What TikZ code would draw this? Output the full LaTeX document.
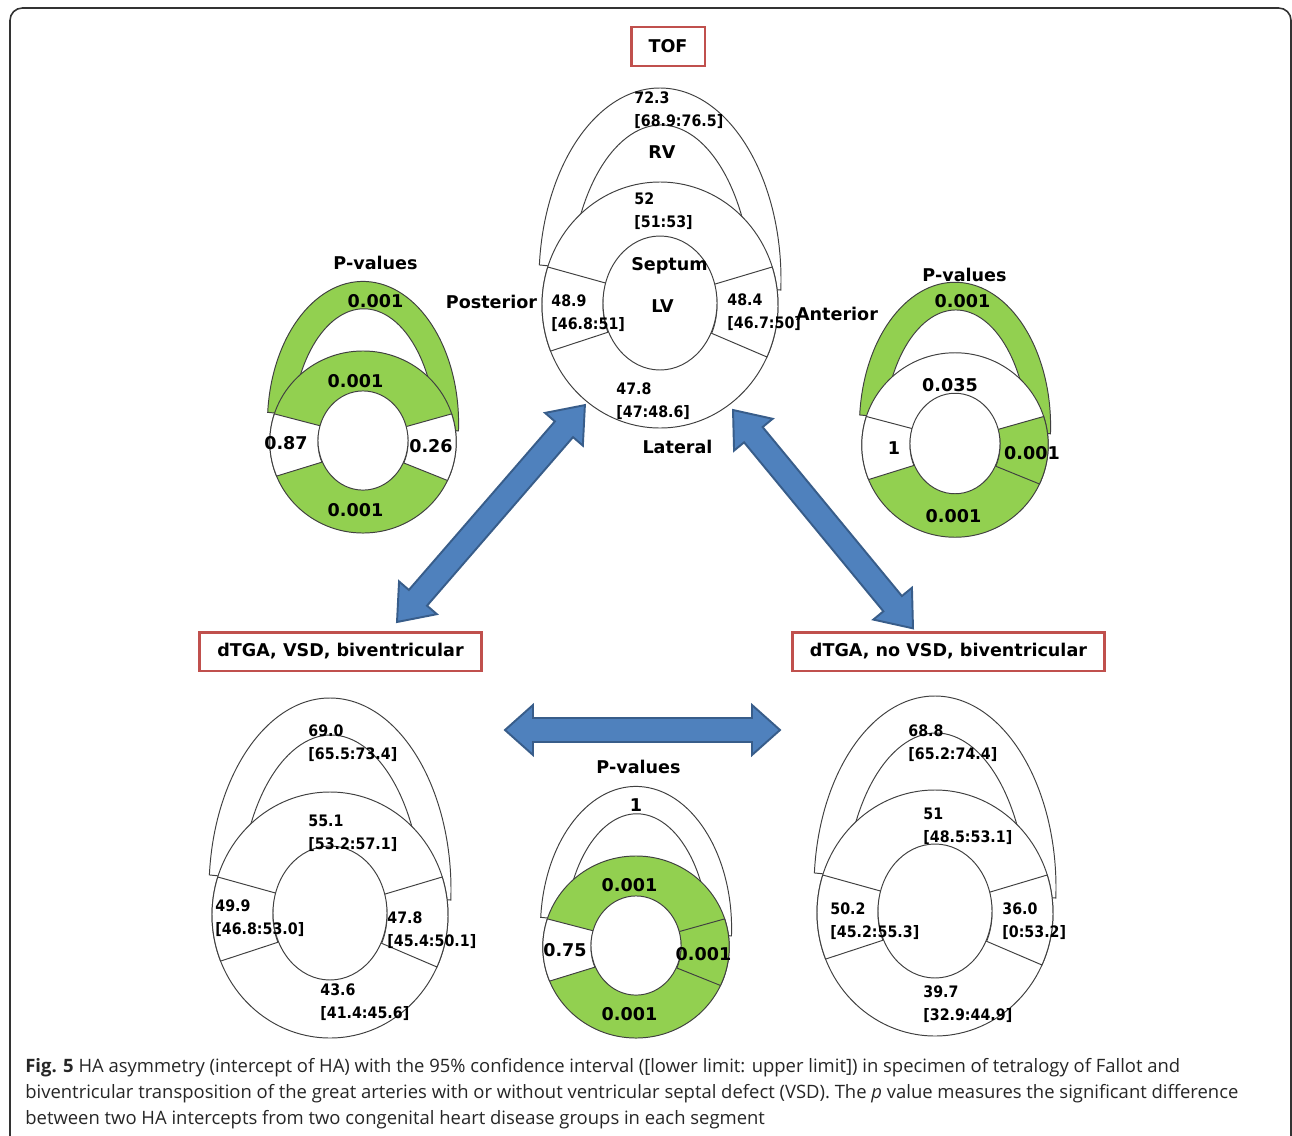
\documentclass[tikz,border=0pt]{standalone}
\usepackage{fontspec}
\setmainfont{DejaVu Sans}
\newfontfamily\capfont{Open Sans}
\newfontfamily\valfont[FakeStretch=0.9]{DejaVu Sans}
\usetikzlibrary{calc}
\definecolor{pgreen}{RGB}{146,208,80}
\definecolor{ablue}{RGB}{79,129,189}
\definecolor{ablueline}{RGB}{56,93,138}
\definecolor{bred}{RGB}{192,80,77}
\tikzset{
  hl/.style={draw=black!75, line width=0.55pt},
  val/.style={font=\valfont\bfseries\fontsize{9}{13}\selectfont, align=left, inner sep=0pt, anchor=west},
  bl/.style={font=\bfseries\fontsize{10}{12}\selectfont, inner sep=0pt},
  redbox/.style={draw=bred, line width=1.7pt, fill=white, font=\bfseries\fontsize{10}{12}\selectfont, inner sep=0pt, minimum height=0.78cm},
  arrowst/.style={fill=ablue, draw=ablueline, line width=1.1pt, line join=miter},
  captext/.style={font=\capfont\fontsize{10.5}{12}\selectfont, text=black!85, inner sep=0pt, anchor=west}
}
% heart: #1 RV, #2 septum, #3 lateral, #4 posterior, #5 anterior
\newcommand\hrt[5]{%
  \filldraw[hl, fill=#1, shift={(0,-25)}] (184.5:121 and 192) arc[start angle=184.5, end angle=363, x radius=121, y radius=192] -- cycle;
  \filldraw[hl, fill=white, shift={(1,-5)}] (200:92 and 175) arc[start angle=200, end angle=340, x radius=92, y radius=175] -- cycle;
  \fill[#2] (0,0) ellipse[x radius=118, y radius=123];
  \fill[#3] (0,0) -- (20:118 and 123) arc[start angle=20, end angle=160, x radius=118, y radius=123] -- cycle;
  \draw[hl] (0,0) ellipse[x radius=118, y radius=123];
  \filldraw[hl, fill=#4] (158:118 and 123) arc[start angle=158, end angle=198, x radius=118, y radius=123] -- (199:57 and 67) arc[start angle=199, end angle=156, x radius=57, y radius=67] -- cycle;
  \filldraw[hl, fill=#5] (-18:118 and 123) arc[start angle=-18, end angle=25, x radius=118, y radius=123] -- (25:57 and 67) arc[start angle=25, end angle=-18, x radius=57, y radius=67] -- cycle;
  \filldraw[hl, fill=white] (0,-2) ellipse[x radius=57, y radius=67];
}
% block double arrow: #1 length, #2 shaft half width, #3 head half width, #4 head length
\newcommand\blockarr[4]{%
  \filldraw[arrowst] (0,0) -- (#4,-#3) -- (#4,-#2) -- ({#1-#4},-#2) -- ({#1-#4},-#3) -- (#1,0) -- ({#1-#4},#3) -- ({#1-#4},#2) -- (#4,#2) -- (#4,#3) -- cycle;
}
\begin{document}
\begin{tikzpicture}[x=0.02cm, y=-0.02cm]
\useasboundingbox (0,0) rectangle (1292,1136);
\fill[white] (0,0) rectangle (1292,1136);
\draw[black!80, line width=0.9pt, rounded corners=7pt] (10,1170) -- (10,8) -- (1291,8) -- (1291,1170);

% ---- hearts with values ----
\begin{scope}[shift={(660,305)}] \hrt{white}{white}{white}{white}{white} \end{scope}
\begin{scope}[shift={(330,915)}] \hrt{white}{white}{white}{white}{white} \end{scope}
\begin{scope}[shift={(935,913)}] \hrt{white}{white}{white}{white}{white} \end{scope}
% ---- p-value hearts ----
\begin{scope}[shift={(363,442)}, xscale=0.79, yscale=0.74] \hrt{pgreen}{pgreen}{pgreen}{white}{white} \end{scope}
\begin{scope}[shift={(955,445)}, xscale=0.79, yscale=0.75] \hrt{pgreen}{white}{pgreen}{white}{pgreen} \end{scope}
\begin{scope}[shift={(636,947)}, xscale=0.79, yscale=0.74] \hrt{white}{pgreen}{pgreen}{white}{pgreen} \end{scope}

% ---- boxes ----
\node[redbox, minimum width=1.48cm] (tof) at (668,46.5) {TOF};
\node[redbox, minimum width=5.66cm] (vsd) at (340.5,651.5) {dTGA, VSD, biventricular};
\node[redbox, minimum width=6.26cm] (novsd) at (948.5,651.5) {dTGA, no VSD, biventricular};

% ---- arrows ----
\coordinate (la) at (397,622); \coordinate (lb) at (585,405);
\coordinate (ra) at (733,410); \coordinate (rb) at (913,628);
\coordinate (ha) at (505,730); \coordinate (hb) at (780,730);
\begin{scope}[shift={(la)}, rotate=49.1] \blockarr{287}{12}{25}{32} \end{scope}
\begin{scope}[shift={(ra)}, rotate=-50.5] \blockarr{283}{12}{25}{32} \end{scope}
\begin{scope}[shift={(ha)}] \blockarr{275}{12}{25}{28} \end{scope}

% ---- TOF labels ----
\node[val] (t1) at (634,110.5) {72.3\\{}[68.9:76.5]};
\node[bl] (trv) at (662,152) {RV};
\node[val] (t2) at (634,211) {52\\{}[51:53]};
\node[bl] (tsep) at (669.5,266) {Septum};
\node[bl] (tlv) at (662.5,306) {LV};
\node[val] (t3) at (551,313) {48.9\\{}[46.8:51]};
\node[val] (t4) at (727,312.5) {48.4\\{}[46.7:50]};
\node[val] (t5) at (616,401.5) {47.8\\{}[47:48.6]};
\node[bl] (tlat) at (677.5,447) {Lateral};
\node[bl] (tpost) at (491.5,302) {Posterior};
\node[bl] (tant) at (837,314) {Anterior};

% ---- left p-values ----
\node[bl] (lp) at (375.5,263) {P-values};
\node[bl] (lp1) at (375.5,301) {0.001};
\node[bl] (lp2) at (355.5,381) {0.001};
\node[bl] (lp3) at (286,443) {0.87};
\node[bl] (lp4) at (431,446) {0.26};
\node[bl] (lp5) at (355.5,510) {0.001};

% ---- right p-values ----
\node[bl] (rp) at (964.5,275) {P-values};
\node[bl] (rp1) at (962.5,301) {0.001};
\node[bl] (rp2) at (950,385) {0.035};
\node[bl] (rp3) at (894,448) {1};
\node[bl] (rp4) at (1032,453) {0.001};
\node[bl] (rp5) at (953.5,516) {0.001};

% ---- centre p-values ----
\node[bl] (cp) at (638.5,767) {P-values};
\node[bl] (cp1) at (636,805) {1};
\node[bl] (cp2) at (629.5,885) {0.001};
\node[bl] (cp3) at (565,950) {0.75};
\node[bl] (cp4) at (703.5,954) {0.001};
\node[bl] (cp5) at (629.5,1014) {0.001};

% ---- dTGA VSD labels ----
\node[val] (v1) at (308,743) {69.0\\{}[65.5:73.4]};
\node[val] (v2) at (308,833) {55.1\\{}[53.2:57.1]};
\node[val] (v3) at (215,918) {49.9\\{}[46.8:53.0]};
\node[val] (v4) at (387,930) {47.8\\{}[45.4:50.1]};
\node[val] (v5) at (320,1002.5) {43.6\\{}[41.4:45.6]};

% ---- dTGA no VSD labels ----
\node[val] (n1) at (908,743) {68.8\\{}[65.2:74.4]};
\node[val] (n2) at (923,826.5) {51\\{}[48.5:53.1]};
\node[val] (n3) at (830,921) {50.2\\{}[45.2:55.3]};
\node[val] (n4) at (1002,921) {36.0\\{}[0:53.2]};
\node[val] (n5) at (923,1004) {39.7\\{}[32.9:44.9]};

% ---- caption ----
\node[captext] (c1) at (25,1068) {\textbf{Fig. 5} HA asymmetry (intercept of HA) with the 95\% confidence interval ([lower limit: upper limit]) in specimen of tetralogy of Fallot and};
\node[captext] (c2) at (25,1094) {biventricular transposition of the great arteries with or without ventricular septal defect (VSD). The \textit{p} value measures the significant difference};
\node[captext] (c3) at (25,1120) {between two HA intercepts from two congenital heart disease groups in each segment};
\end{tikzpicture}
\end{document}
